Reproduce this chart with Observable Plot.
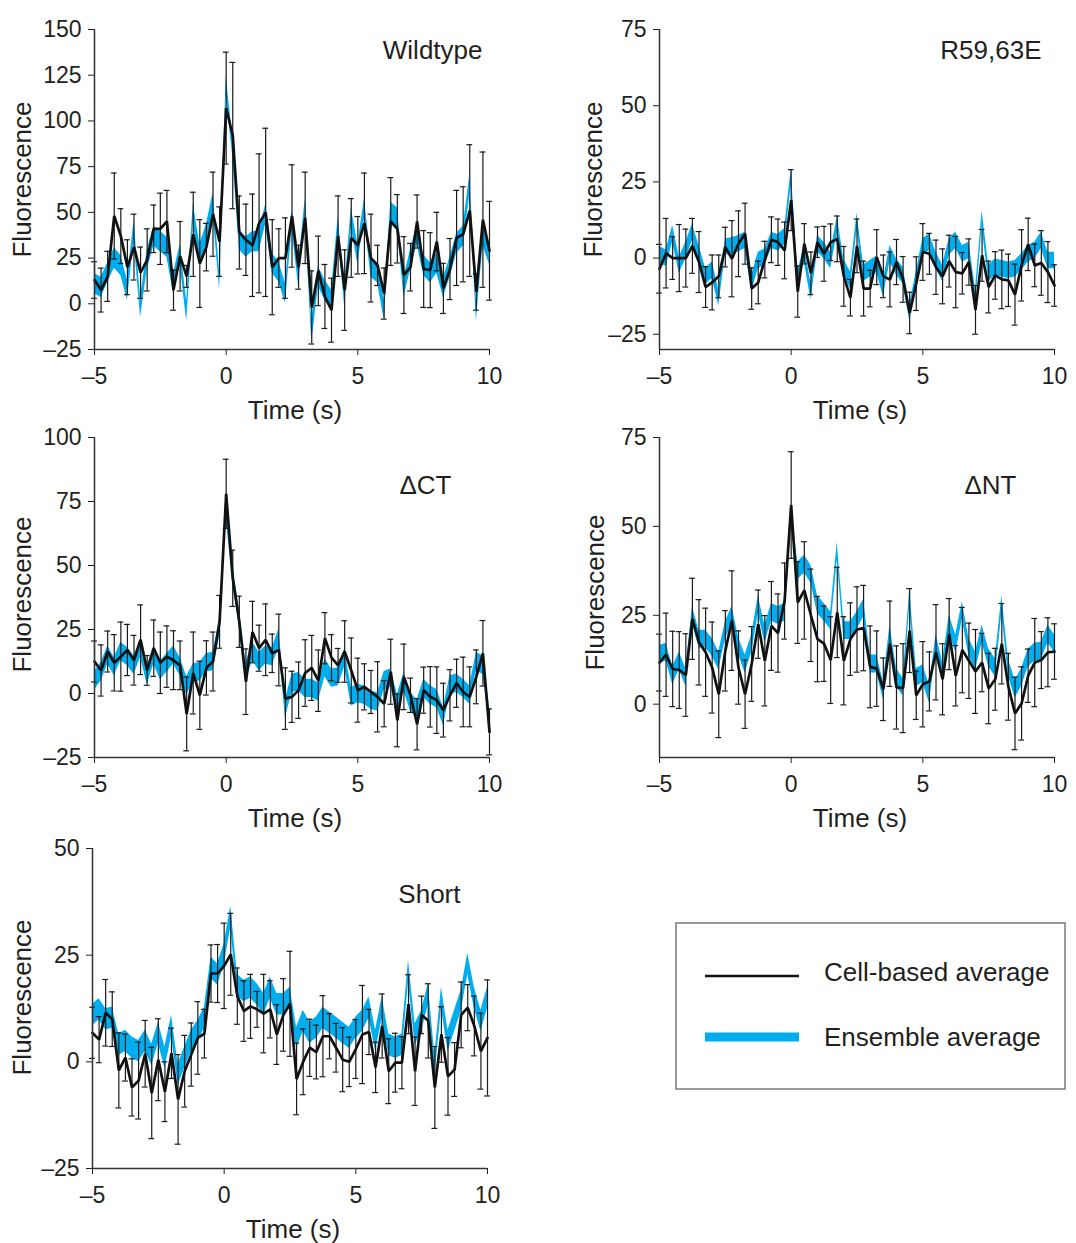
<!DOCTYPE html>
<html><head><meta charset="utf-8">
<script src="https://cdn.jsdelivr.net/npm/d3@7"></script>
<script src="https://cdn.jsdelivr.net/npm/@observablehq/plot@0.6"></script>
<style>
body{margin:0;background:#fff;}
#fig{position:relative;width:1076px;height:1243px;background:#fff;font-family:"Liberation Sans",Arial,Helvetica,sans-serif;}
.panel{position:absolute;}
</style></head><body><div id="fig"></div>
<script>
// ---- data ----
const time = [-5,-4.75,-4.5,-4.25,-4,-3.75,-3.5,-3.25,-3,-2.75,-2.5,-2.25,-2,-1.75,-1.5,-1.25,-1,-0.75,-0.5,-0.25,
  0,0.25,0.5,0.75,1,1.25,1.5,1.75,2,2.25,2.5,2.75,3,3.25,3.5,3.75,4,4.25,4.5,4.75,
  5,5.25,5.5,5.75,6,6.25,6.5,6.75,7,7.25,7.5,7.75,8,8.25,8.5,8.75,9,9.25,9.5,9.75,10];

const panelNames = ["Wildtype", "R59,63E", "\u0394CT", "\u0394NT", "Short"];
const seriesNames = ["Cell-based average", "Ensemble average"];

// Wildtype
const wtCell = [13,7.5,15,48,37,20,31,17,24,41,41,45,7.5,26,15,38,22,31,49,34,
  107,92,39,35,32,44,50,20,25,25,48,20,47,-2,18,4,-3.5,37,7.5,36,
  32,44,25,21,5.6,45,41,15.7,20,45,19,18.4,34,8.4,19,36,38,51,6.5,46,29];
const wtErr = [10,12,13.7,23.5,15,15,18,14,17,13,19.5,17,11,19,6,23,24,13,23,19,
  30.6,40,20,19.5,28,38,46,26,16,22,28,12,25,20,19,17.5,17.5,22,22,21.5,
  15.7,27.5,24,11,14,24,18.7,21,13,14.5,21,20.5,16,13.7,16.7,26,26,36,10,37,27];
const wtEns = [11,9,17,25,21,7.5,40,-2,24,37,34,31,11,27,-4,49,27,38,55,13,
  119,86,35,31,34,34,49,22,17.5,5.6,46,15,52,-16,15,7.5,2,42,4,47,
  27,52,20,17,-3.5,50,47,9,24,38,21,17,22,9,20,33,37,65,-4,37,27];

// R59,63E
const rCell = [-3.5,1.6,0,0,0,4,-1.3,-9.5,-8,-6,3.6,-0.2,4.7,8,-10,-8,-0.5,6,5.2,2.5,
  19,-11,4.7,-5,5.2,1.4,5.2,6.3,-6,-13,4,-10,-10,0.3,-6,-7,-1.3,-7,-18,-8.4,
  2,1.4,-3,-6,-1,-4.6,-5,-1.3,-17,0.9,-9.5,-5.7,-7,-7.3,-12,-2.4,4.5,-2.4,-1.6,-4.6,-9];
const rErr = [8,11.4,7,11,9.5,9,10,6.7,9,7,6.5,12.5,10.8,10,6.8,7,6,7.5,7.6,9.3,
  10,8.4,6.6,7,5,9,6,7.5,9.8,6,8.8,9,6,9,7,9,7.4,7.5,6.8,8.8,
  9.3,6.7,8.9,9,8.5,11.7,6.8,7.6,8,8.5,8.5,7.8,9.6,8.6,10,11.7,8.6,7,10.6,10,6.8];
const rEns = [1,0,8,-2.4,2.5,8.5,1.4,-6,-4,-13,3.6,4,4.7,5.8,-8.4,-0.8,0.3,5.8,5,7,
  26.5,-7.3,1.4,-11,4.7,2.5,-0.8,11,-3,-7.3,12,-5,-3.5,-2,-10,1.4,-3,-5.7,-18,-7,
  3.6,5.2,-0.8,-5,3.6,5.8,1.4,2.5,-13,12.8,-5,-3,-3.5,-4,-3.5,-1.3,1.4,2.5,5.8,-0.8,-0.8];

// ΔCT
const ctCell = [12.5,9,16.4,12,14.4,17,13,21,9,17.7,12,14.4,13,11,-8,8,-0.7,10,12.5,28,
  78,45,28,4.6,24,17.7,21,15.7,17,-2,-1.3,1.3,8,10,5,21.6,14,11,16.4,9,
  1.3,2.6,0.6,-1.3,-4,8.5,-10.5,6.5,-0.7,-12,1.3,-1.3,-2.6,-6.5,-0.7,4,0.6,-1.3,6.5,15.7,-15];
const ctErr = [8,10,8,11,13.5,10,9.7,13.6,5.8,11,12,12,11.5,9.5,14.4,16,13.3,10.6,11.5,10.3,
  13.5,11,10,12.8,12,9,14,7.5,14,12,10,11,13,12.7,12,10,9,6.6,12,12.7,
  12.5,9,8.4,13.7,9,12.7,10.3,12.8,6.7,10,9,11.8,13,10.5,10,9.4,13.6,11.7,10.5,12.8,9];
const ctEns = [5,8.5,15,10.5,16.4,14.4,11,17.7,7,15,9,12,15,10.5,3,8,8.5,12,12.5,25.6,
  72,46.6,29.5,8.5,16.4,12.5,15,14.4,21.6,-6,4,4.6,2,2,0.6,10,6,6.5,14,-1.3,
  0,-0.7,-2.6,-3.3,5,6,-4,4.6,-3.3,-6,2,-0.6,-2,-9,3.3,4,2,-0.6,12.5,11,-8.5];

// ΔNT
const ntCell = [11.7,13.9,9.9,9.6,8.2,24,17.4,14.6,10.3,2.8,15,23.5,10.3,2.8,11.3,22.5,12.2,22,20,29,
  56,28.6,32,25,18.3,17,12.4,25.8,12.2,18.3,21,21.4,10.5,10,4.2,17,4.7,4.5,20.7,2.5,
  5.6,6.4,14.6,7,19.7,8,15.2,12.2,9.2,11.7,4.4,7,17,4.9,-2.6,0.2,8,11.7,12.4,14.6,14.8];
const ntErr = [8,11.7,10.6,10.8,11.6,11.4,12,12.4,12.8,12.2,11.3,14,10.3,9.6,10.5,9.6,12.7,12.5,11,10.7,
  15,11.5,13.7,13,12,10.6,12.2,12.7,12.4,10.2,12,12,11.5,10.6,8.8,12,11.7,12.5,11.8,6.8,
  12,8.3,13.4,10,10,8.5,12,10.6,11.8,8.2,9.9,8.7,11.3,9.4,10.2,10.3,7.5,12.4,8,9.7,7.8];
const ntEns = [14,14.6,8,12.2,7.5,25,18.3,18.3,16,12.2,20.7,25,16.4,11.3,17,28,19.7,25.8,25,25.8,
  53,37.5,39.4,36.6,28,25.8,23.5,43,20.7,20.7,23.5,27,11.3,11.3,3.8,19.7,7.5,4.7,30,7.5,
  8.5,2.8,17,9.4,22.5,17,26.3,16,12.2,19.7,13,10.3,28,10.3,4.2,7.5,13,14.6,15,19.7,17];

// Short
const shCell = [6.8,5.2,11.5,10,-2,1,-6,-4.4,1.9,-7.3,0.5,-7,2,-8.8,-2.2,1.7,5.6,6.6,20.7,20.7,
  22.5,25.2,15.4,11.9,13,12.3,11.3,12.3,6.4,11,13.6,-4,0,3.3,2.3,6,6,3.3,0.5,0,
  3,6.4,7,-1.3,8.4,-2.2,-0.2,-0.2,13.5,-2.2,11,9.6,-6,6.4,-3.4,-1.8,11,12.7,8.4,2.5,5.6];
const shErr = [6,5.4,7.8,6.4,8.8,5.5,6.7,9,7.8,10.7,9.6,7,5.9,10.5,8.4,7.4,8.5,5.7,6.7,6.8,
  10,9.6,6.6,7.1,7.5,4.2,9.2,6.7,7,8.5,12.3,8.4,7.7,6.7,6.3,9.5,5.3,5.7,7.5,5.8,
  6.9,11.5,5.3,5.9,7.5,7.6,6.9,6.1,6.9,8,4.4,8.7,9.6,6.5,9.1,6.3,7.7,5.4,7,8.9,13.6];
const shEns = [11,12.3,10,10.3,4,4.9,3.3,2.5,4.9,1.7,6.8,1,8.4,-3,1,4.9,7.2,10.3,22,20.5,
  25.2,34,18,16.6,17.4,15.8,13.5,17.4,13.5,13.5,15,5.6,9.6,6.8,8,10.3,9.2,8,6.8,5.6,
  8,9.6,12.7,4.9,12.7,4,3.3,4,21.3,6.4,9.6,15.8,-1,15,4.9,9.6,14.3,22.9,15,9.6,15];

// ensemble band half-width (SEM) per panel
const ensSem = [5.5, 2.7, 3.6, 2.5, 2.5];

const yDomains = [[-25,150],[-30,75],[-25,100],[-15,75],[-25,50]];
const yTickValues = [[-25,0,25,50,75,100,125,150],[-25,0,25,50,75],[-25,0,25,50,75,100],[0,25,50,75],[-25,0,25,50]];
const xTickValues = [-5,0,5,10];

// ---- layout / styles ----
const BLUE = "#00aeef";
const INK = "#231f20";
const FONT = '"Liberation Sans", Arial, Helvetica, sans-serif';
const CAP = 0.11;
const fmt = d => d < 0 ? "\u2013" + Math.abs(d) : String(d);

const layout = [
  {left:0,   top:0,   w:540, h:420, ml:94,  mr:51, mt:29, mb:71, tdx:-7,  tdy:21, ydx:-72, ydy:-10},
  {left:540, top:0,   w:536, h:420, ml:119, mr:22, mt:29, mb:71, tdx:-13, tdy:21, ydx:-66, ydy:-10},
  {left:0,   top:420, w:540, h:420, ml:94,  mr:51, mt:17, mb:83, tdx:-38, tdy:48, ydx:-72, ydy:-3},
  {left:540, top:420, w:536, h:420, ml:119, mr:22, mt:17, mb:83, tdx:-38, tdy:48, ydx:-64, ydy:-5},
  {left:0,   top:840, w:540, h:403, ml:92,  mr:53, mt:8,  mb:75, tdx:-27, tdy:46, ydx:-70, ydy:-11}
];
const cells = [wtCell, rCell, ctCell, ntCell, shCell];
const errs = [wtErr, rErr, ctErr, ntErr, shErr];
const enss = [wtEns, rEns, ctEns, ntEns, shEns];

const fig = document.getElementById("fig");

layout.forEach((L, k) => {
  const rows = time.map((t, i) => ({t, c: cells[k][i], e: errs[k][i], b: enss[k][i]}));
  const band = ensSem[k];
  const chart = Plot.plot({
    width: L.w, height: L.h,
    marginLeft: L.ml, marginRight: L.mr, marginTop: L.mt, marginBottom: L.mb,
    style: {fontFamily: FONT, fontSize: "23px", color: INK, background: "transparent", overflow: "visible"},
    x: {domain: [-5, 10], ticks: xTickValues, tickFormat: fmt, tickSize: 6, tickPadding: 12, label: null},
    y: {domain: yDomains[k], ticks: yTickValues[k], tickFormat: fmt, tickSize: 6, tickPadding: 7, label: null},
    marks: [
      Plot.areaY(rows, {x: "t", y1: d => d.b - band, y2: d => d.b + band, fill: BLUE}),
      Plot.ruleX(rows, {x: "t", y1: d => d.c - d.e, y2: d => d.c + d.e, stroke: "#1a1a1a", strokeWidth: 1.2}),
      Plot.ruleY(rows, {y: d => d.c + d.e, x1: d => d.t - CAP, x2: d => d.t + CAP, stroke: "#1a1a1a", strokeWidth: 1.2}),
      Plot.ruleY(rows, {y: d => d.c - d.e, x1: d => d.t - CAP, x2: d => d.t + CAP, stroke: "#1a1a1a", strokeWidth: 1.2}),
      Plot.line(rows, {x: "t", y: "c", stroke: "#111", strokeWidth: 2.7, strokeLinejoin: "miter"}),
      Plot.ruleX([-5], {stroke: "#333", strokeWidth: 1.5}),
      Plot.ruleY([yDomains[k][0]], {stroke: "#333", strokeWidth: 1.5}),
      Plot.text([panelNames[k]], {frameAnchor: "top-right", textAnchor: "end", lineAnchor: "middle", dx: L.tdx, dy: L.tdy, fontSize: 26, fill: INK}),
      Plot.text(["Time (s)"], {frameAnchor: "bottom", textAnchor: "middle", lineAnchor: "middle", dx: 3, dy: 61, fontSize: 26, fill: INK}),
      Plot.text(["Fluorescence"], {frameAnchor: "left", textAnchor: "middle", lineAnchor: "middle", rotate: -90, dx: L.ydx, dy: L.ydy, fontSize: 26, fill: INK})
    ]
  });
  const div = document.createElement("div");
  div.className = "panel";
  div.style.left = L.left + "px";
  div.style.top = L.top + "px";
  div.appendChild(chart);
  fig.appendChild(div);
});

// ---- legend ----
const ns = "http://www.w3.org/2000/svg";
const leg = document.createElementNS(ns, "svg");
leg.setAttribute("width", 392);
leg.setAttribute("height", 170);
leg.style.position = "absolute";
leg.style.left = "674px";
leg.style.top = "921px";
leg.style.fontFamily = FONT;
function el(tag, attrs, text) {
  const e = document.createElementNS(ns, tag);
  for (const [a, v] of Object.entries(attrs)) e.setAttribute(a, v);
  if (text) e.textContent = text;
  leg.appendChild(e);
  return e;
}
el("rect", {x: 2, y: 2, width: 389, height: 166, fill: "#fff", stroke: "#7a7a7a", "stroke-width": 1.5});
el("line", {x1: 31, x2: 125, y1: 55, y2: 55, stroke: "#111", "stroke-width": 2.6});
el("line", {x1: 31, x2: 125, y1: 116, y2: 116, stroke: BLUE, "stroke-width": 9});
el("text", {x: 150, y: 60, "font-size": 26, fill: INK}, seriesNames[0]);
el("text", {x: 150, y: 125, "font-size": 26, fill: INK}, seriesNames[1]);
fig.appendChild(leg);
</script></body></html>
